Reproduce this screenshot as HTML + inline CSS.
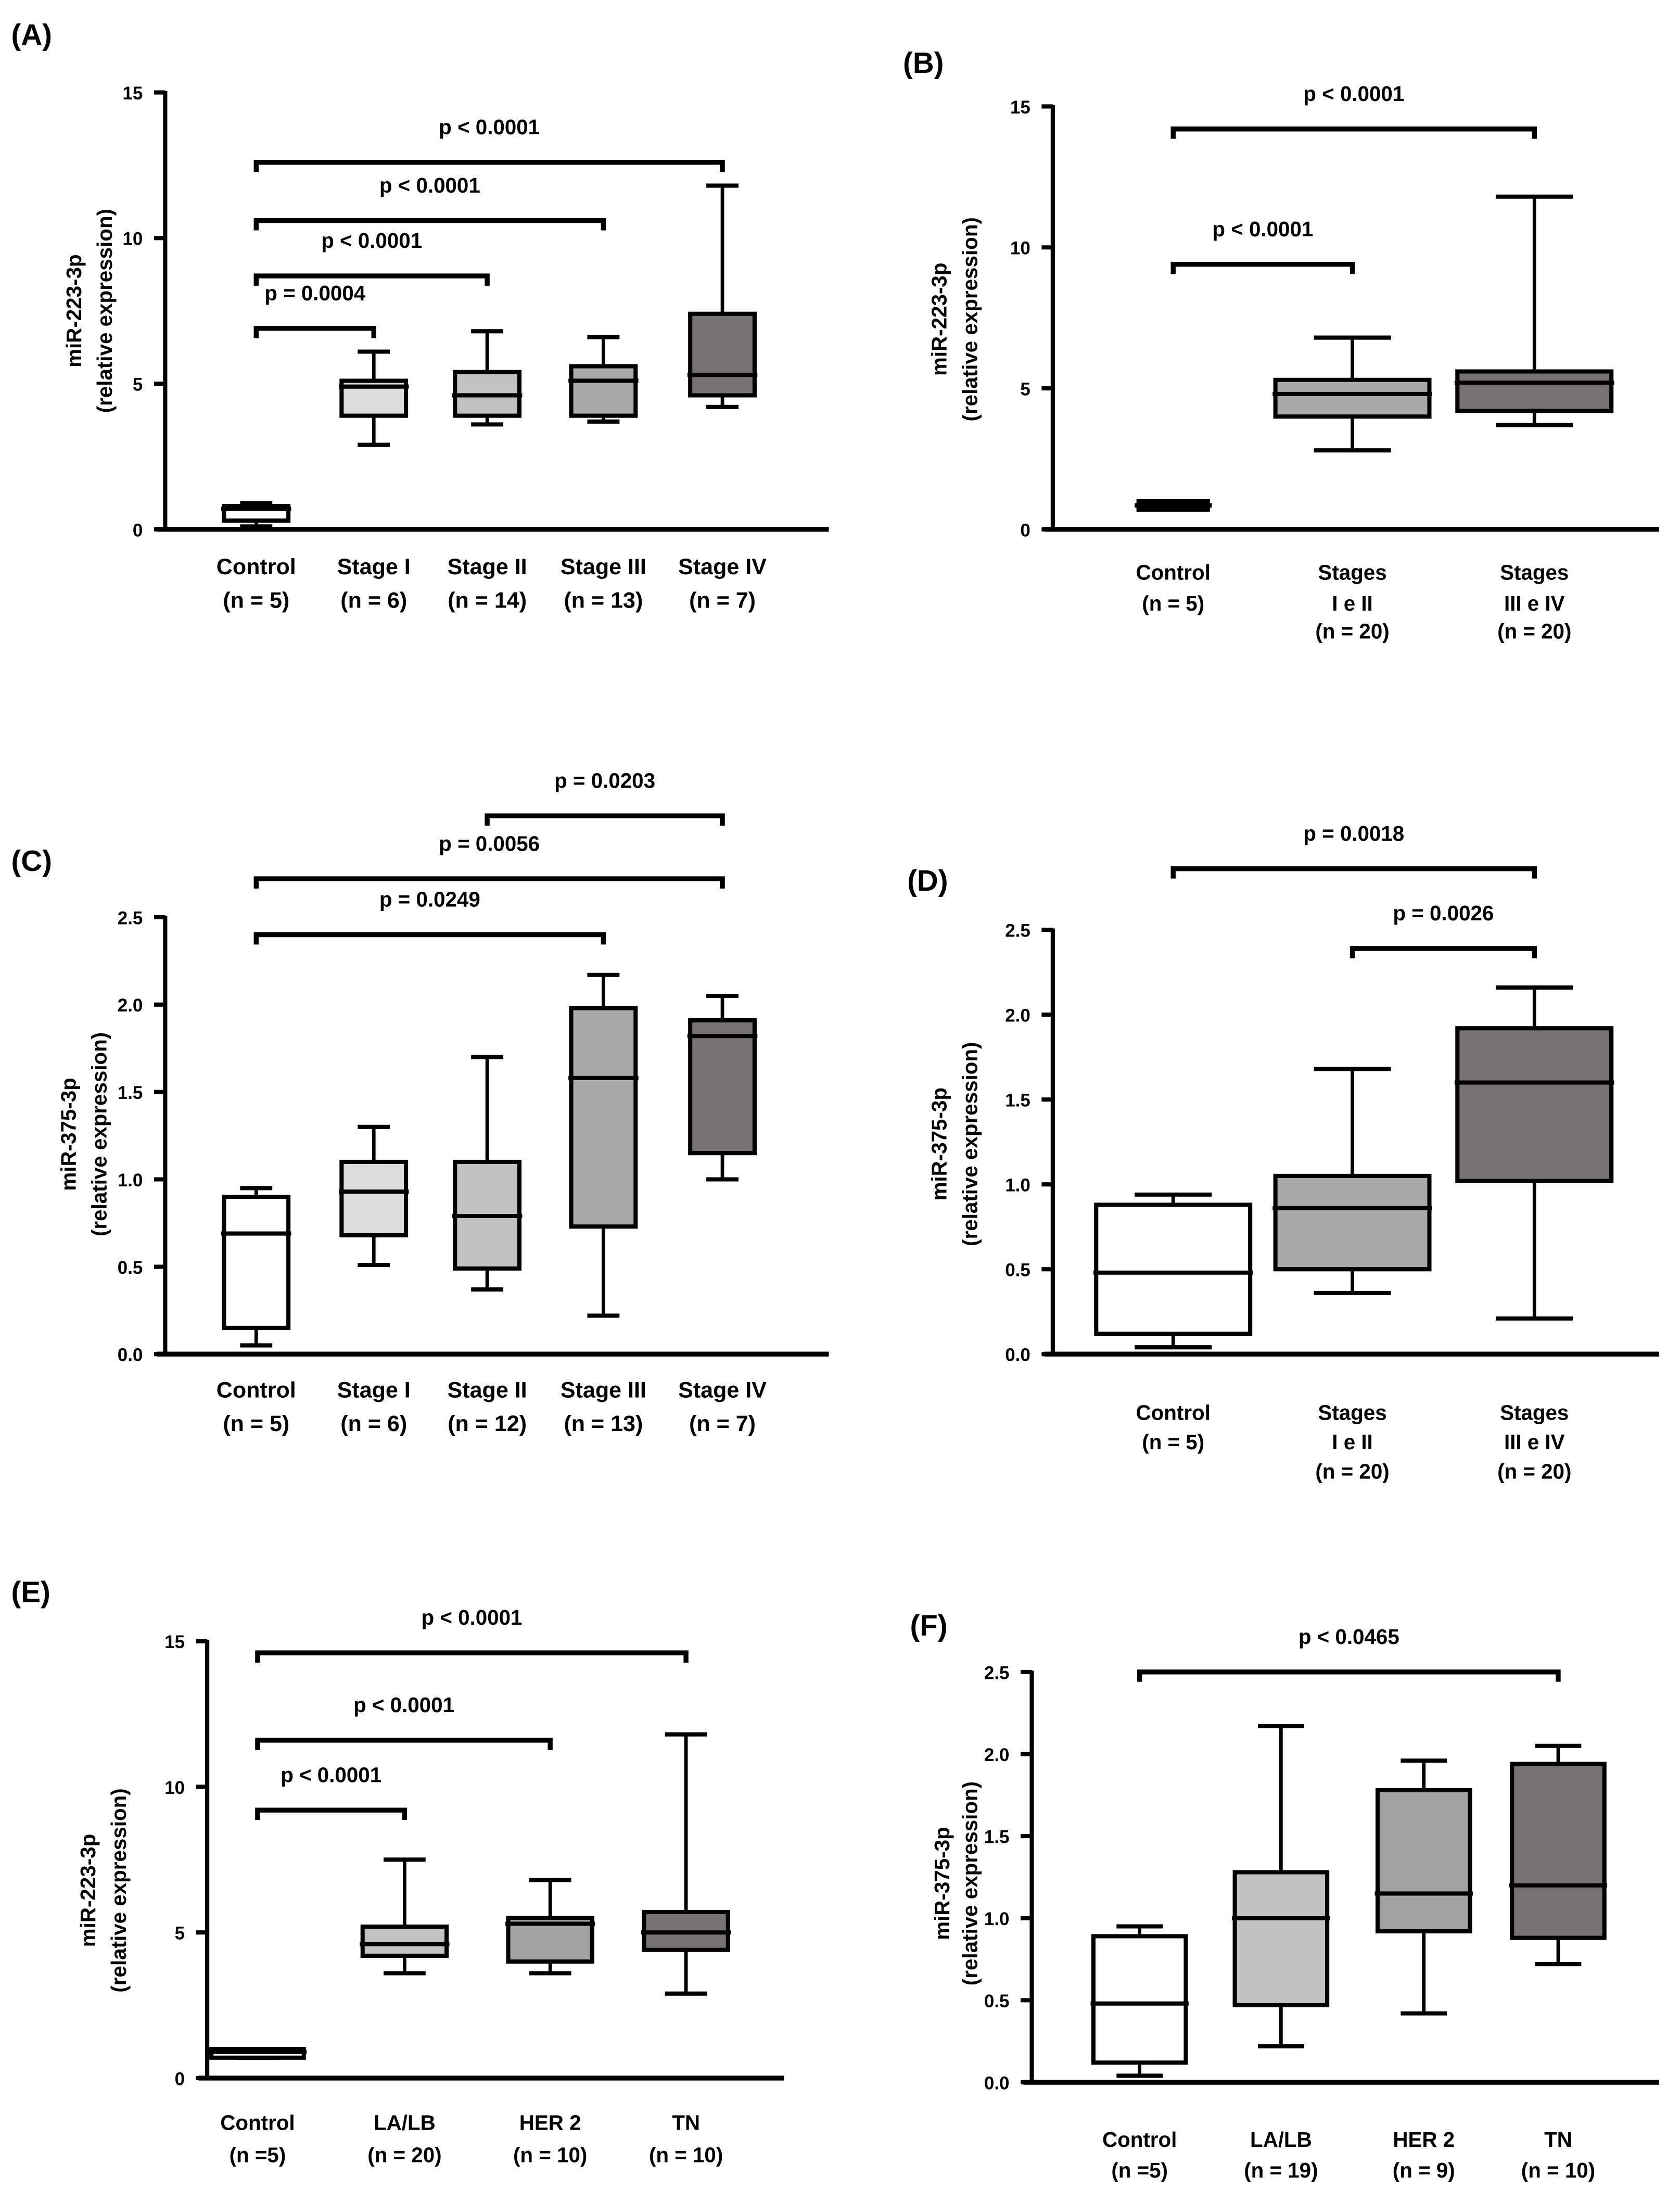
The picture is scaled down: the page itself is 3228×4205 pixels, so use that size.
<!DOCTYPE html>
<html><head><meta charset="utf-8"><style>
html,body{margin:0;padding:0;background:#fff;}
svg{display:block;font-family:"Liberation Sans",Arial,sans-serif;font-weight:bold;}
</style></head><body>
<svg id="fig" xmlns="http://www.w3.org/2000/svg" width="3228" height="4205" viewBox="0 0 1200 1563.2" preserveAspectRatio="none"></svg>
<script>
// ---------- Panel A data ----------
const aCats=["Control|(n = 5)","Stage I|(n = 6)","Stage II|(n = 14)","Stage III|(n = 13)","Stage IV|(n = 7)"];
const aMin=[0.1,2.9,3.6,3.7,4.2];
const aQ1=[0.3,3.9,3.9,3.9,4.6];
const aMed=[0.7,4.9,4.6,5.1,5.3];
const aQ3=[0.8,5.1,5.4,5.6,7.4];
const aMax=[0.9,6.1,6.8,6.6,11.8];
const aTicks=["0","5","10","15"];
const aBFrom=[0,0,0,0], aBTo=[1,2,3,4];
const aBVal=[6.9,8.7,10.6,12.6];
const aBLab=["p = 0.0004","p < 0.0001","p < 0.0001","p < 0.0001"];
// ---------- Panel B data ----------
const bCats=["Control|(n = 5)","Stages|I e II|(n = 20)","Stages|III e IV|(n = 20)"];
const bMin=[0.85,2.8,3.7];
const bQ1=[0.7,4.0,4.2];
const bMed=[0.85,4.8,5.2];
const bQ3=[1.0,5.3,5.6];
const bMax=[0.85,6.8,11.8];
const bTicks=["0","5","10","15"];
const bBFrom=[0,0], bBTo=[1,2];
const bBVal=[9.4,14.2];
const bBLab=["p < 0.0001","p < 0.0001"];
// ---------- Panel C data ----------
const cCats=["Control|(n = 5)","Stage I|(n = 6)","Stage II|(n = 12)","Stage III|(n = 13)","Stage IV|(n = 7)"];
const cMin=[0.05,0.51,0.37,0.22,1.0];
const cQ1=[0.15,0.68,0.49,0.73,1.15];
const cMed=[0.69,0.93,0.79,1.58,1.82];
const cQ3=[0.9,1.1,1.1,1.98,1.91];
const cMax=[0.95,1.3,1.7,2.17,2.05];
const cTicks=["0.0","0.5","1.0","1.5","2.0","2.5"];
const cBFrom=[0,0,2], cBTo=[3,4,4];
const cBVal=[2.4,2.72,3.08];
const cBLab=["p = 0.0249","p = 0.0056","p = 0.0203"];
// ---------- Panel D data ----------
const dCats=["Control|(n = 5)","Stages|I e II|(n = 20)","Stages|III e IV|(n = 20)"];
const dMin=[0.04,0.36,0.21];
const dQ1=[0.12,0.5,1.02];
const dMed=[0.48,0.86,1.6];
const dQ3=[0.88,1.05,1.92];
const dMax=[0.94,1.68,2.16];
const dTicks=["0.0","0.5","1.0","1.5","2.0","2.5"];
const dBFrom=[1,0], dBTo=[2,2];
const dBVal=[2.39,2.86];
const dBLab=["p = 0.0026","p = 0.0018"];
// ---------- Panel E data ----------
const eCats=["Control|(n =5)","LA/LB|(n = 20)","HER 2|(n = 10)","TN|(n = 10)"];
const eMin=[0.7,3.6,3.6,2.9];
const eQ1=[0.7,4.2,4.0,4.4];
const eMed=[0.9,4.6,5.3,5.0];
const eQ3=[1.0,5.2,5.5,5.7];
const eMax=[1.0,7.5,6.8,11.8];
const eTicks=["0","5","10","15"];
const eBFrom=[0,0,0], eBTo=[1,2,3];
const eBVal=[9.2,11.6,14.6];
const eBLab=["p < 0.0001","p < 0.0001","p < 0.0001"];
// ---------- Panel F data ----------
const fCats=["Control|(n =5)","LA/LB|(n = 19)","HER 2|(n = 9)","TN|(n = 10)"];
const fMin=[0.04,0.22,0.42,0.72];
const fQ1=[0.12,0.47,0.92,0.88];
const fMed=[0.48,1.0,1.15,1.2];
const fQ3=[0.89,1.28,1.78,1.94];
const fMax=[0.95,2.17,1.96,2.05];
const fTicks=["0.0","0.5","1.0","1.5","2.0","2.5"];
const fBFrom=[0], fBTo=[3];
const fBVal=[2.5];
const fBLab=["p < 0.0465"];

const NS="http://www.w3.org/2000/svg";
const svg=document.getElementById('fig');
function mk(tag,attrs,parent){const e=document.createElementNS(NS,tag);for(const k in attrs)e.setAttribute(k,attrs[k]);(parent||svg).appendChild(e);return e;}

const panels=[
 {id:'a',letter:'(A)',lx:8,ly:32,ax:118,y0:378,yt:66,xe:592,cx:[183,267,348,431,516],bw:46,lab:[410,434],tx:[58,80],tcy:222,yl:'miR-223-3p',fills:['#fff','#dcdcdc','#c2c2c2','#a9a9a9','#777272'],cats:aCats,mn:aMin,q1:aQ1,md:aMed,q3:aQ3,mx:aMax,ticks:aTicks,bf:aBFrom,bt:aBTo,bv:aBVal,bl:aBLab,fs:16},
 {id:'b',letter:'(B)',lx:645,ly:52,ax:752,y0:378,yt:76,xe:1185,cx:[838,966,1096],bw:110,lab:[414,436,456],tx:[676,698],tcy:228,yl:'miR-223-3p',fills:['#000','#a9a9a9','#777272'],bwc:[0.45,1,1],cats:bCats,mn:bMin,q1:bQ1,md:bMed,q3:bQ3,mx:bMax,ticks:bTicks,bf:bBFrom,bt:bBTo,bv:bBVal,bl:bBLab,fs:15},
 {id:'c',letter:'(C)',lx:8,ly:622,ax:118,y0:967,yt:655,xe:592,cx:[183,267,348,431,516],bw:46,lab:[998,1022],tx:[54,76],tcy:810,yl:'miR-375-3p',fills:['#fff','#dcdcdc','#c2c2c2','#a9a9a9','#777272'],cats:cCats,mn:cMin,q1:cQ1,md:cMed,q3:cQ3,mx:cMax,ticks:cTicks,bf:cBFrom,bt:cBTo,bv:cBVal,bl:cBLab,fs:16},
 {id:'d',letter:'(D)',lx:648,ly:636,ax:752,y0:967,yt:664,xe:1185,cx:[838,966,1096],bw:110,lab:[1014,1035,1056],tx:[676,698],tcy:817,yl:'miR-375-3p',fills:['#fff','#a9a9a9','#777272'],cats:dCats,mn:dMin,q1:dQ1,md:dMed,q3:dQ3,mx:dMax,ticks:dTicks,bf:dBFrom,bt:dBTo,bv:dBVal,bl:dBLab,fs:15},
 {id:'e',letter:'(E)',lx:8,ly:1144,ax:148,y0:1484,yt:1172,xe:560,cx:[184,289,393,490],bw:60,lab:[1521,1544],tx:[68,90],tcy:1350,yl:'miR-223-3p',fills:['#fff','#c2c2c2','#a3a3a3','#777272'],bwc:[1.1,1,1,1],cats:eCats,mn:eMin,q1:eQ1,md:eMed,q3:eQ3,mx:eMax,ticks:eTicks,bf:eBFrom,bt:eBTo,bv:eBVal,bl:eBLab,fs:15},
 {id:'f',letter:'(F)',lx:650,ly:1168,ax:737,y0:1487,yt:1194,xe:1185,cx:[814,915,1017,1113],bw:66,lab:[1533,1555],tx:[678,698],tcy:1345,yl:'miR-375-3p',fills:['#fff','#c2c2c2','#a3a3a3','#777272'],cats:fCats,mn:fMin,q1:fQ1,md:fMed,q3:fQ3,mx:fMax,ticks:fTicks,bf:fBFrom,bt:fBTo,bv:fBVal,bl:fBLab,fs:15}
];

panels.forEach(p=>{
  const g=mk('g',{});
  
  
  const tmax=parseFloat(p.ticks[p.ticks.length-1]);
  const y=v=>p.y0-(v/tmax)*(p.y0-p.yt);
  const lt=mk('text',{x:p.lx,y:p.ly,'font-size':21},g);lt.textContent=p.letter;
  
  
  const ya=mk('line',{x1:p.ax,y1:p.yt-1,x2:p.ax,y2:p.y0,stroke:'#000','stroke-width':3},g);
  
  
  const xa=mk('line',{x1:p.ax-6,y1:p.y0,x2:p.xe,y2:p.y0,stroke:'#000','stroke-width':3.5},g);
  
  
  p.ticks.forEach(t=>{
    const v=parseFloat(t),yy=y(v);
    mk('line',{x1:p.ax-8,y1:yy,x2:p.ax,y2:yy,stroke:'#000','stroke-width':3},g);
    const tx=mk('text',{x:p.ax-16,y:yy+5,'font-size':13,'text-anchor':'end'},g);tx.textContent=t;
    
    
  });
  const tt=mk('text',{transform:`translate(${p.tx[0]},${p.tcy}) rotate(-90)`,'font-size':15,'text-anchor':'middle'},g);
  tt.textContent=p.yl;
  
  
  const tt2=mk('text',{transform:`translate(${p.tx[1]},${p.tcy}) rotate(-90)`,'font-size':15,'text-anchor':'middle'},g);
  tt2.textContent='(relative expression)';
  
  
  p.cats.forEach((c,i)=>{
    const cx=p.cx[i],w=p.bw*((p.bwc&&p.bwc[i])||1),cw=p.bw*0.5;
    const bg=mk('g',{},g);
    
    
    mk('line',{x1:cx,y1:y(p.mx[i]),x2:cx,y2:y(p.q3[i]),stroke:'#000','stroke-width':2.5},bg);
    mk('line',{x1:cx,y1:y(p.q1[i]),x2:cx,y2:y(p.mn[i]),stroke:'#000','stroke-width':2.5},bg);
    mk('line',{x1:cx-cw/2,y1:y(p.mx[i]),x2:cx+cw/2,y2:y(p.mx[i]),stroke:'#000','stroke-width':3},bg);
    mk('line',{x1:cx-cw/2,y1:y(p.mn[i]),x2:cx+cw/2,y2:y(p.mn[i]),stroke:'#000','stroke-width':3},bg);
    const top=y(p.q3[i]),bot=y(p.q1[i]);
    mk('rect',{x:cx-w/2,y:top,width:w,height:Math.max(bot-top,1),fill:p.fills[i],stroke:'#000','stroke-width':3},bg);
    mk('line',{x1:cx-w/2-2,y1:y(p.md[i]),x2:cx+w/2+2,y2:y(p.md[i]),stroke:'#000','stroke-width':3},bg);
    const parts=c.split('|');
    parts.forEach((s,k)=>{
      const t=mk('text',{x:cx,y:p.lab[k],'font-size':p.fs,'text-anchor':'middle'},g);t.textContent=s;
      
      
    });
  });
  p.bv.forEach((v,j)=>{
    const x1=p.cx[p.bf[j]],x2=p.cx[p.bt[j]],yy=y(v);
    const bg=mk('g',{},g);
    
    
    mk('path',{d:`M${x1},${yy+7} V${yy} H${x2} V${yy+7}`,fill:'none',stroke:'#000','stroke-width':3.5},bg);
    const t=mk('text',{x:(x1+x2)/2,y:yy-20,'font-size':15,'text-anchor':'middle'},bg);t.textContent=p.bl[j];
  });
});
</script>
</body></html>
